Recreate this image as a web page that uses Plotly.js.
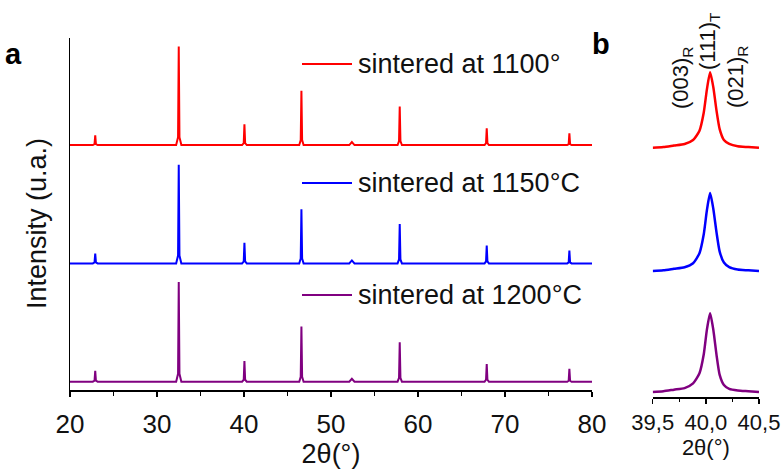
<!DOCTYPE html>
<html>
<head>
<meta charset="utf-8">
<script src="https://cdn.plot.ly/plotly-3.0.1.min.js"></script>
<style>html,body{margin:0;padding:0;background:#fff;}#chart{width:783px;height:469px;}</style>
</head>
<body>
<div id="chart"></div>
<script>
// ---- Panel a: full XRD patterns (2θ in degrees, relative intensity) ----
const twoTheta = [20,
  22.62, 22.82, 22.9, 22.98, 23.18,
  32.2, 32.42, 32.5, 32.58, 32.8,
  39.78, 39.97, 40.05, 40.13, 40.32,
  46.35, 46.52, 46.6, 46.68, 46.85,
  52.1, 52.4, 52.7,
  57.65, 57.82, 57.9, 57.98, 58.15,
  67.65, 67.82, 67.9, 67.98, 68.15,
  77.15, 77.32, 77.4, 77.48, 77.65,
  80];
const int1100 = [0,
  0, 1, 10, 1, 0,
  0, 8, 100, 8, 0,
  0, 2, 21, 2, 0,
  0, 5, 55, 5, 0,
  0, 3, 0,
  0, 4, 39, 4, 0,
  0, 2, 17, 2, 0,
  0, 1, 12, 1, 0,
  0];
const int1150 = [0,
  0, 1, 10, 1, 0,
  0, 8, 100, 8, 0,
  0, 2, 21, 2, 0,
  0, 5, 55, 5, 0,
  0, 3, 0,
  0, 4, 40, 4, 0,
  0, 2, 18, 2, 0,
  0, 1, 13, 1, 0,
  0];
const int1200 = [0,
  0, 1, 11, 1, 0,
  0, 8, 101, 8, 0,
  0, 2, 21, 2, 0,
  0, 5, 56, 5, 0,
  0, 3, 0,
  0, 4, 40, 4, 0,
  0, 2, 18, 2, 0,
  0, 1, 13, 1, 0,
  0];

// ---- Panel b: zoom on the (003)R / (111)T / (021)R region ----
const twoThetaZoom = [39.5, 39.6, 39.7, 39.8, 39.88, 39.94, 39.98, 40.01, 40.04, 40.07, 40.1, 40.13, 40.17, 40.22, 40.3, 40.4, 40.5];
const zoom1100 = [0, 1, 3, 5, 10, 22, 45, 75, 97, 78, 48, 24, 10, 5, 2, 1, 0];
const zoom1150 = [0, 1, 3, 5, 10, 23, 47, 78, 100, 80, 50, 25, 11, 5, 2, 1, 0];
const zoom1200 = [0, 1, 3, 5, 11, 24, 48, 80, 101, 80, 48, 22, 9, 4, 2, 1, 0];

const legendLabels = ['sintered at 1100°', 'sintered at 1150°C', 'sintered at 1200°C'];
const peakLabels = ['(003)<sub>R</sub>', '(111)<sub>T</sub>', '(021)<sub>R</sub>'];
const colors = ['#ff0000', '#0000ff', '#800080'];

// vertical stacking offsets (style only)
const offsA = [240, 120, 0];
const offsB = [313, 155, 0];

const seriesA = [int1100, int1150, int1200];
const seriesB = [zoom1100, zoom1150, zoom1200];

const traces = [];
seriesA.forEach((s, i) => traces.push({
  x: twoTheta, y: s.map(v => v + offsA[i]), type: 'scatter', mode: 'lines',
  line: {color: colors[i], width: 2}, xaxis: 'x', yaxis: 'y', showlegend: false, name: legendLabels[i]
}));
seriesB.forEach((s, i) => traces.push({
  x: twoThetaZoom, y: s.map(v => v + offsB[i]), type: 'scatter', mode: 'lines',
  line: {color: colors[i], width: 2.5, shape: 'spline', smoothing: 0.6}, xaxis: 'x2', yaxis: 'y2', showlegend: false, name: legendLabels[i]
}));

const W = 783, H = 469;
const px = v => v / W, py = v => 1 - v / H;
const FONT = 'Liberation Sans, Arial, sans-serif';

const shapes = [];
const annotations = [];
const legendY = [64, 183, 295];
legendLabels.forEach((t, i) => {
  shapes.push({type: 'line', xref: 'paper', yref: 'paper', x0: px(302), x1: px(352), y0: py(legendY[i]), y1: py(legendY[i]),
    line: {color: colors[i], width: 2}});
  annotations.push({xref: 'paper', yref: 'paper', x: px(356), y: py(legendY[i]), xanchor: 'left', yanchor: 'middle',
    text: t, showarrow: false, font: {family: FONT, size: 27, color: '#111'}});
});
annotations.push({xref: 'paper', yref: 'paper', x: px(37), y: py(224), xanchor: 'center', yanchor: 'middle',
  textangle: -90, text: 'Intensity (u.a.)', showarrow: false, font: {family: FONT, size: 27, color: '#111'}});
annotations.push({xref: 'paper', yref: 'paper', x: px(13.5), y: py(54), xanchor: 'center', yanchor: 'middle',
  text: '<b>a</b>', showarrow: false, font: {family: 'Liberation Sans Narrow, Arial Narrow, sans-serif', size: 29, color: '#000'}});
annotations.push({xref: 'paper', yref: 'paper', x: px(600.5), y: py(44), xanchor: 'center', yanchor: 'middle',
  text: '<b>b</b>', showarrow: false, font: {family: 'Liberation Sans Narrow, Arial Narrow, sans-serif', size: 29, color: '#000'}});
const peakPos = [[682, 78], [709, 41], [737, 77]];
peakLabels.forEach((t, i) => annotations.push({xref: 'paper', yref: 'paper', x: px(peakPos[i][0]), y: py(peakPos[i][1]),
  xanchor: 'center', yanchor: 'middle', textangle: -90, text: t, showarrow: false,
  font: {family: FONT, size: 22, color: '#111'}}));

const layout = {
  width: W, height: H,
  margin: {l: 0, r: 0, t: 0, b: 0},
  paper_bgcolor: '#fff', plot_bgcolor: '#fff',
  separators: ', ',
  showlegend: false,
  font: {family: FONT, color: '#111'},
  xaxis: {
    domain: [px(70), px(592)], range: [20, 80], anchor: 'y',
    tickmode: 'linear', tick0: 20, dtick: 10, ticks: 'outside', ticklen: 5, tickwidth: 1.5, tickcolor: '#000',
    ticklabelstandoff: 5,
    minor: {dtick: 5, ticks: 'outside', ticklen: 4, tickwidth: 1.5, tickcolor: '#000'},
    showline: true, linecolor: '#000', linewidth: 1.5, showgrid: false, zeroline: false,
    tickfont: {family: FONT, size: 26, color: '#111'},
    title: {text: '2θ(°)', font: {family: FONT, size: 27, color: '#111'}, standoff: 6}
  },
  yaxis: {
    domain: [1 - 390 / H, 1 - 38 / H], range: [-8.4, 348.6], anchor: 'x',
    showline: true, linecolor: '#000', linewidth: 1.5, showgrid: false, zeroline: false,
    ticks: '', showticklabels: false
  },
  xaxis2: {
    domain: [px(652.7), px(759)], range: [39.5, 40.5], anchor: 'y2',
    tickvals: [39.5, 40.0, 40.5], tickformat: '.1f', ticks: 'outside', ticklen: 5, tickwidth: 1.5, tickcolor: '#000',
    minor: {tickvals: [39.75, 40.25], ticks: 'outside', ticklen: 3, tickwidth: 1.5, tickcolor: '#000'},
    showline: true, linecolor: '#000', linewidth: 1.5, showgrid: false, zeroline: false,
    tickfont: {family: FONT, size: 22, color: '#111'},
    title: {text: '2θ(°)', font: {family: FONT, size: 22, color: '#111'}, standoff: 3}
  },
  yaxis2: {
    domain: [1 - 397 / H, 1 - 40 / H], range: [-6.4, 451.3], anchor: 'x2',
    visible: false, showgrid: false, zeroline: false
  },
  shapes: shapes,
  annotations: annotations
};

Plotly.newPlot('chart', traces, layout, {displayModeBar: false, staticPlot: true});
</script>
</body>
</html>
